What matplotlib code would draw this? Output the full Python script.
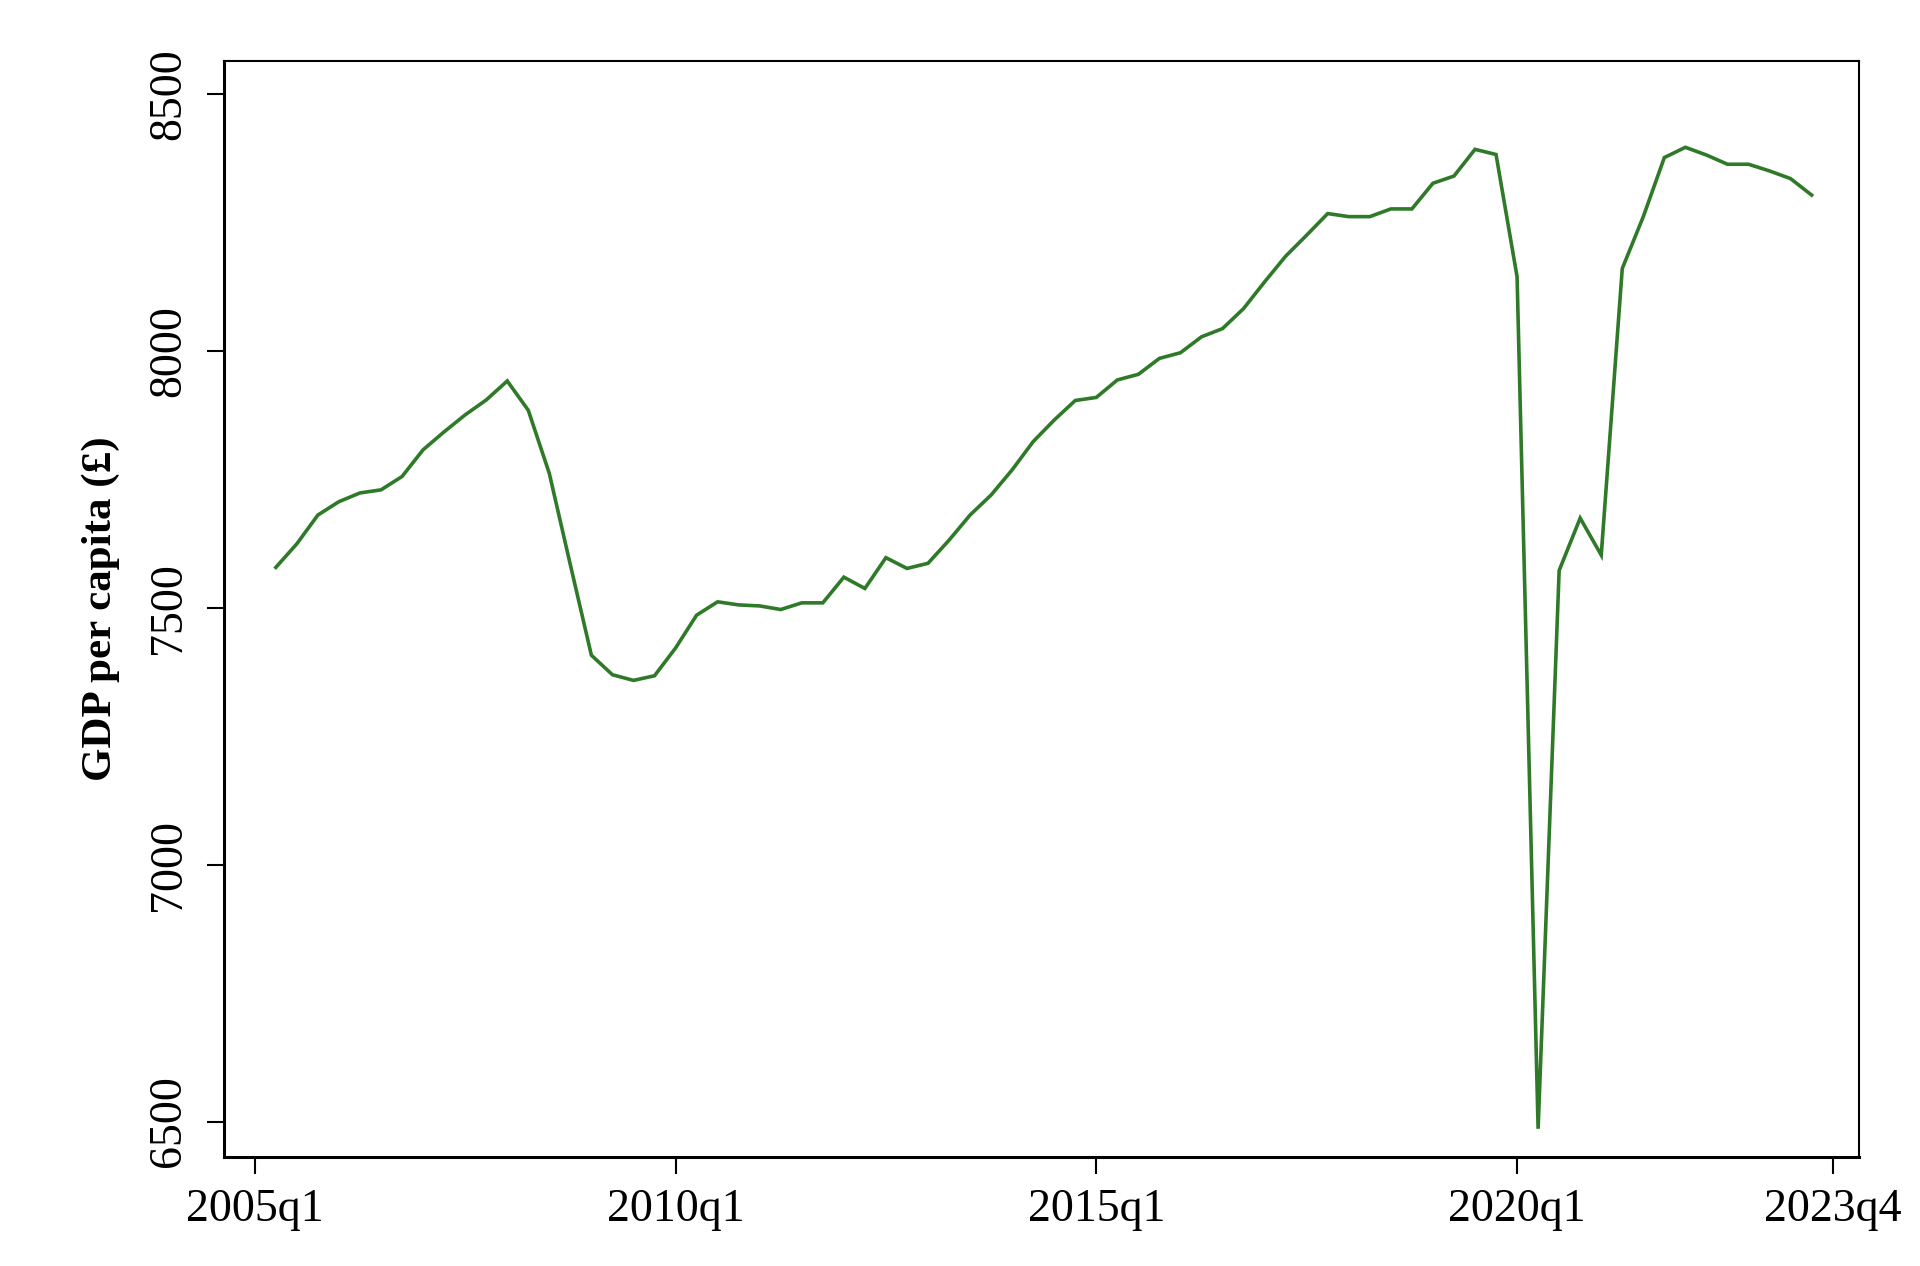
import matplotlib
matplotlib.use("Agg")
import matplotlib.pyplot as plt
import numpy as np

# Quarters from 2005q2 to 2023q3
quarters = [f"{y}q{q}" for y in range(2005, 2024) for q in range(1, 5)]
quarters = quarters[1:75]

gdp_per_capita = [
    7579, 7625, 7681, 7707, 7724, 7730, 7756, 7808, 7843, 7876, 7905, 7942,
    7885, 7762, 7584, 7408, 7370, 7359, 7368, 7422, 7486, 7512, 7506, 7504,
    7497, 7510, 7510, 7560, 7538, 7598, 7577, 7587, 7632, 7681, 7720, 7769,
    7824, 7866, 7904, 7910, 7944, 7955, 7986, 7997, 8028, 8044, 8083, 8135,
    8185, 8226, 8268, 8262, 8262, 8277, 8277, 8327, 8341, 8393, 8383, 8145,
    6486, 7573, 7675, 7603, 8161, 8262, 8377, 8397, 8382, 8364, 8364, 8351,
    8336, 8304,
]

xtick_labels = ["2005q1", "2010q1", "2015q1", "2020q1", "2023q4"]
ytick_values = [6500, 7000, 7500, 8000, 8500]

all_quarters = [f"{y}q{q}" for y in range(2005, 2024) for q in range(1, 5)]
qindex = {q: i for i, q in enumerate(all_quarters)}
x = [qindex[q] for q in quarters]
xticks = [qindex[q] for q in xtick_labels]

plt.rcParams['font.family'] = ['Liberation Serif', 'DejaVu Serif']

fig = plt.figure(figsize=(19.2, 12.66), dpi=100)
ax = fig.add_axes([0.1167, 0.0861, 0.9682 - 0.1167, 0.9518 - 0.0861])

ax.plot(x, gdp_per_capita, color='#2f7a29', linewidth=2.6, solid_joinstyle='miter')

ax.set_xlim(-1.46, 76.25)
ax.set_ylim(6431, 8565)
ax.set_xticks(xticks)
ax.set_xticklabels(xtick_labels)
ax.set_yticks(ytick_values)
ax.set_yticklabels([str(v) for v in ytick_values], rotation=90, va='center')

ax.tick_params(axis='both', direction='out', length=12.5, width=1.5, labelsize=33, colors='black')
ax.tick_params(axis='x', pad=10)
ax.tick_params(axis='y', pad=12)

for side in ['left', 'bottom']:
    ax.spines[side].set_linewidth(2.2)
for side in ['top', 'right']:
    ax.spines[side].set_linewidth(1.5)

ax.set_ylabel("GDP per capita (£)", fontsize=31, fontweight='bold', labelpad=20)

fig.savefig("out.png", dpi=100, facecolor='white')
